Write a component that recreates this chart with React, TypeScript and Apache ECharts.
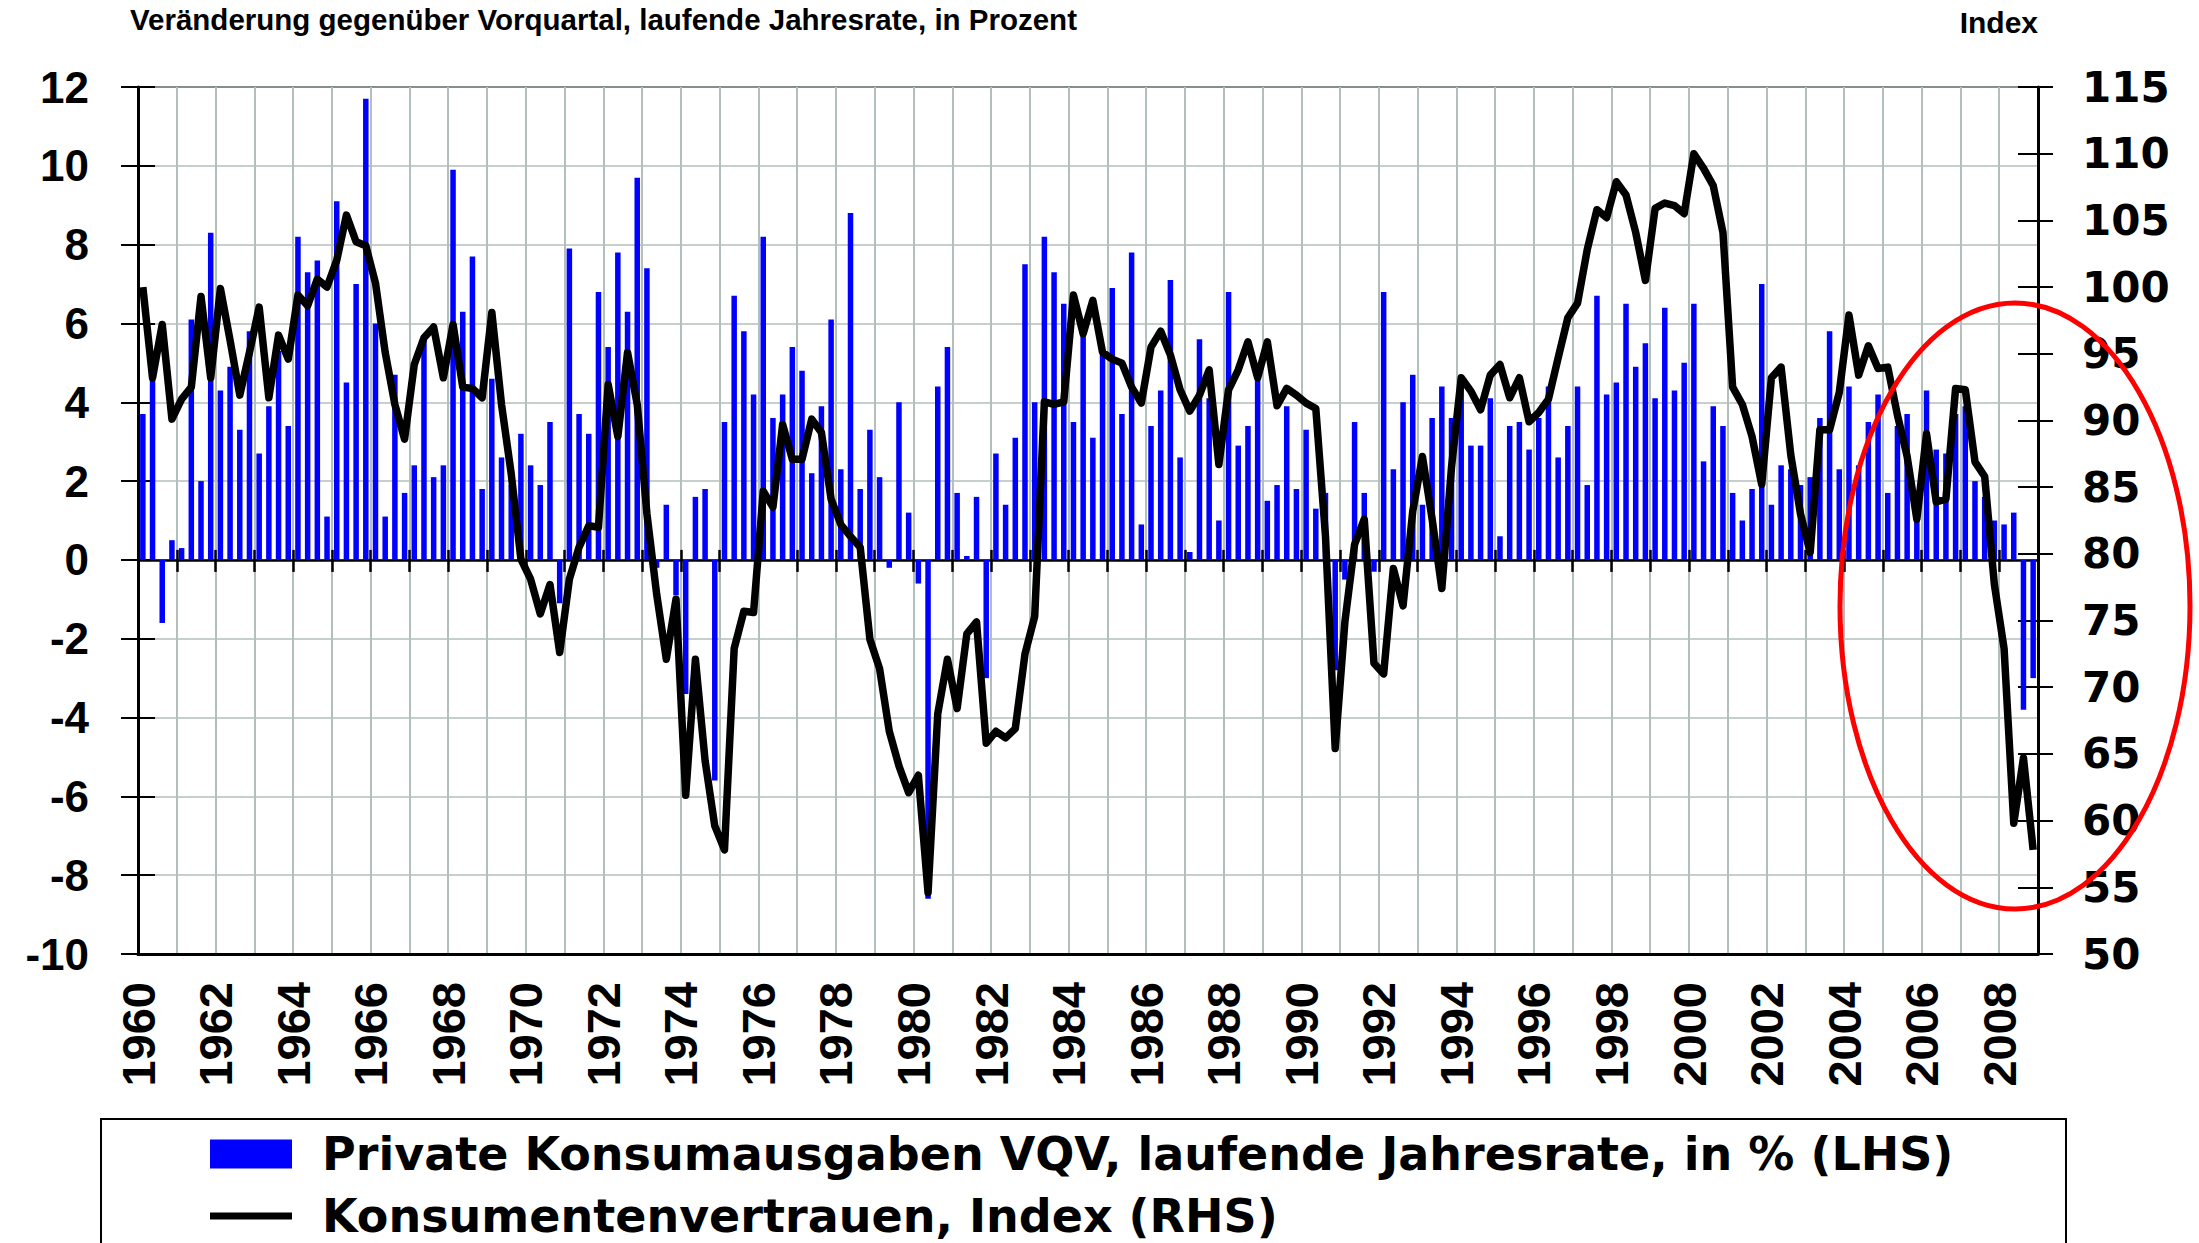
import React, { useEffect, useRef } from 'react';
import * as echarts from 'echarts';

const FIRST_YEAR = 1960;
const LAST_YEAR = 2008;

const titleText = 'Veränderung gegenüber Vorquartal, laufende Jahresrate, in Prozent';
const rightAxisName = 'Index';
const barName = 'Private Konsumausgaben VQV, laufende Jahresrate, in % (LHS)';
const lineName = 'Konsumentenvertrauen, Index (RHS)';

// Private consumption, q/q annualised, % (LHS), 1960Q1 .. 2008Q4
const consumptionGrowth = [
  3.7, 4.6, -1.6, 0.5, 0.3, 6.1, 2.0, 8.3, 4.3, 4.9, 3.3, 5.8, 2.7, 3.9, 5.3, 3.4,
  8.2, 7.3, 7.6, 1.1, 9.1, 4.5, 7.0, 11.7, 6.0, 1.1, 4.7, 1.7, 2.4, 5.6, 2.1, 2.4,
  9.9, 6.3, 7.7, 1.8, 4.6, 2.6, 1.9, 3.2, 2.4, 1.9, 3.5, -1.1, 7.9, 3.7, 3.2, 6.8,
  5.4, 7.8, 6.3, 9.7, 7.4, -0.2, 1.4, -0.9, -3.4, 1.6, 1.8, -5.6, 3.5, 6.7, 5.8, 4.2,
  8.2, 3.6, 4.2, 5.4, 4.8, 2.2, 3.9, 6.1, 2.3, 8.8, 1.8, 3.3, 2.1, -0.2, 4.0, 1.2,
  -0.6, -8.6, 4.4, 5.4, 1.7, 0.1, 1.6, -3.0, 2.7, 1.4, 3.1, 7.5, 4.0, 8.2, 7.3, 6.5,
  3.5, 5.8, 3.1, 5.2, 6.9, 3.7, 7.8, 0.9, 3.4, 4.3, 7.1, 2.6, 0.2, 5.6, 4.1, 1.0,
  6.8, 2.9, 3.4, 4.6, 1.5, 1.9, 3.9, 1.8, 3.3, 1.3, 1.7, -2.8, -0.5, 3.5, 1.7, -0.3,
  6.8, 2.3, 4.0, 4.7, 1.4, 3.6, 4.4, 3.6, 4.4, 2.9, 2.9, 4.1, 0.6, 3.4, 3.5, 2.8,
  3.6, 4.4, 2.6, 3.4, 4.4, 1.9, 6.7, 4.2, 4.5, 6.5, 4.9, 5.5, 4.1, 6.4, 4.3, 5.0,
  6.5, 2.5, 3.9, 3.4, 1.7, 1.0, 1.8, 7.0, 1.4, 2.4, 2.3, 1.9, 2.1, 3.6, 5.8, 2.3,
  4.4, 2.4, 3.5, 4.2, 1.7, 3.4, 3.7, 1.1, 4.3, 2.8, 2.7, 3.7, 3.9, 2.0, 1.6, 1.0,
  0.9, 1.2, -3.8, -3.0,
];

// Consumer confidence index (RHS), 1960Q1 .. 2008Q4
const consumerSentiment = [
  100.0, 93.2, 97.2, 90.1, 91.6, 92.5, 99.3, 93.2, 99.9, 96.0, 91.9, 95.1, 98.5, 91.7, 96.4, 94.6,
  99.4, 98.6, 100.6, 100.0, 102.0, 105.4, 103.4, 103.1, 100.3, 95.1, 91.2, 88.6, 94.2, 96.2, 97.0, 93.2,
  97.2, 92.5, 92.4, 91.7, 98.1, 91.2, 86.0, 79.6, 78.1, 75.5, 77.7, 72.6, 78.1, 80.5, 82.1, 82.0,
  92.7, 88.8, 95.1, 91.2, 83.0, 77.0, 72.1, 76.6, 61.9, 72.1, 64.5, 59.6, 57.8, 72.9, 75.7, 75.6,
  84.7, 83.5, 89.7, 87.1, 87.1, 90.1, 89.1, 84.1, 82.2, 81.3, 80.5, 73.6, 71.4, 66.7, 64.1, 62.1,
  63.4, 54.6, 68.0, 72.1, 68.4, 74.0, 74.9, 65.8, 66.7, 66.2, 66.9, 72.5, 75.3, 91.4, 91.2, 91.4,
  99.4, 96.5, 99.0, 95.1, 94.6, 94.3, 92.5, 91.3, 95.5, 96.7, 94.9, 92.3, 90.7, 91.9, 93.8, 86.7,
  92.3, 93.8, 95.9, 93.2, 95.9, 91.1, 92.4, 91.9, 91.3, 90.9, 81.3, 65.4, 74.9, 80.7, 82.6, 71.8,
  71.0, 78.9, 76.1, 83.2, 87.3, 82.6, 77.4, 86.5, 93.2, 92.2, 90.8, 93.4, 94.2, 91.7, 93.2, 89.9,
  90.6, 91.6, 94.7, 97.7, 98.8, 102.8, 105.8, 105.2, 107.9, 106.9, 104.1, 100.5, 105.9, 106.3, 106.1, 105.5,
  110.0, 108.9, 107.6, 104.1, 92.5, 91.2, 88.8, 85.2, 93.2, 94.0, 87.4, 83.0, 80.1, 89.3, 89.3, 92.1,
  97.9, 93.4, 95.6, 93.9, 94.0, 90.4, 87.3, 82.6, 89.0, 83.9, 84.1, 92.4, 92.3, 86.9, 85.8, 77.7,
  72.9, 59.8, 64.7, 57.8,
];

const LEFT_MIN = -10;
const LEFT_MAX = 12;
const LEFT_STEP = 2;
const RIGHT_MIN = 50;
const RIGHT_MAX = 115;
const RIGHT_STEP = 5;

const quarters: string[] = [];
for (let y = FIRST_YEAR; y <= LAST_YEAR; y++) {
  for (let q = 1; q <= 4; q++) quarters.push(`${y}Q${q}`);
}
const quarterEdges = [...quarters, `${LAST_YEAR + 1}Q1`];

const GRID_COLOR = '#b3bfba';
const ARIAL = "'Liberation Sans', Arial, sans-serif";
const WIDE = "'DejaVu Sans', 'Liberation Sans', sans-serif";
const NARROW = "'Liberation Sans Narrow', 'Arial Narrow', 'Liberation Sans', sans-serif";

export default function App() {
  const ref = useRef<HTMLDivElement>(null);

  useEffect(() => {
    if (!ref.current) return;
    const chart = echarts.init(ref.current, null, { renderer: 'svg' });
    const option: any = {
      animation: false,
      backgroundColor: '#ffffff',
      title: {
        text: titleText,
        left: 130,
        top: 4,
        padding: 0,
        textStyle: { fontFamily: NARROW, fontWeight: 'bold', fontSize: 29.5, color: '#000' },
      },
      grid: {
        left: 138,
        right: 161,
        top: 87,
        bottom: 289,
        show: true,
        borderColor: '#000',
        borderWidth: 2,
        backgroundColor: 'transparent',
      },
      legend: {
        orient: 'vertical',
        left: 210,
        top: 1131,
        padding: 0,
        itemWidth: 82,
        itemHeight: 29,
        itemGap: 16,
        selectedMode: false,
        textStyle: {
          fontFamily: WIDE,
          fontWeight: 'bold',
          fontSize: 46,
          lineHeight: 45,
          color: '#000',
          padding: [0, 0, 0, 25],
        },
        data: [
          { name: barName, icon: 'rect' },
          { name: lineName, icon: 'path://M0 0H82V7H0Z', itemStyle: { borderWidth: 0 } },
        ],
      },
      xAxis: [
        {
          type: 'category',
          data: quarters,
          position: 'bottom',
          axisLine: { onZero: true, onZeroAxisIndex: 0, lineStyle: { color: '#000', width: 2.5 } },
          axisTick: { show: true, interval: 3, length: 12, lineStyle: { color: '#000', width: 2.5 } },
          axisLabel: { show: false },
          splitLine: { show: false },
        },
        {
          type: 'category',
          data: quarterEdges,
          boundaryGap: false,
          position: 'bottom',
          axisLine: { onZero: false, lineStyle: { color: '#000', width: 3 } },
          axisTick: { show: false },
          axisLabel: {
            interval: 7,
            rotate: 90,
            margin: 28,
            formatter: (v: string, idx: number) => (idx >= quarters.length ? '' : v.slice(0, 4)),
            fontFamily: ARIAL,
            fontWeight: 'bold',
            fontSize: 47,
            color: '#000',
          },
          splitLine: { show: true, interval: 3, lineStyle: { color: GRID_COLOR, width: 2 } },
        },
        {
          type: 'category',
          data: quarters,
          position: 'bottom',
          axisLine: { show: false, onZero: true, onZeroAxisIndex: 0 },
          axisTick: { show: true, inside: true, interval: 3, length: 10, lineStyle: { color: '#000', width: 2.5 } },
          axisLabel: { show: false },
          splitLine: { show: false },
        },
      ],
      yAxis: [
        {
          type: 'value',
          min: LEFT_MIN,
          max: LEFT_MAX,
          interval: LEFT_STEP,
          position: 'left',
          axisLine: { show: true, lineStyle: { color: '#000', width: 3 } },
          axisTick: { show: true, length: 17, lineStyle: { color: '#000', width: 2 } },
          axisLabel: { margin: 49, fontFamily: ARIAL, fontWeight: 'bold', fontSize: 44, color: '#000' },
          splitLine: { show: true, lineStyle: { color: GRID_COLOR, width: 1.5 } },
        },
        {
          type: 'value',
          min: RIGHT_MIN,
          max: RIGHT_MAX,
          interval: RIGHT_STEP,
          position: 'right',
          name: rightAxisName,
          nameLocation: 'end',
          nameGap: 50,
          nameTextStyle: {
            fontFamily: NARROW,
            fontWeight: 'bold',
            fontSize: 30,
            color: '#000',
            align: 'right',
            verticalAlign: 'bottom',
          },
          axisLine: { show: true, lineStyle: { color: '#000', width: 3 } },
          axisTick: { show: true, length: 15, lineStyle: { color: '#000', width: 2 } },
          axisLabel: { margin: 44, fontFamily: WIDE, fontWeight: 'bold', fontSize: 42, color: '#000' },
          splitLine: { show: false },
        },
        {
          type: 'value',
          min: LEFT_MIN,
          max: LEFT_MAX,
          interval: LEFT_STEP,
          position: 'left',
          axisLine: { show: false },
          axisTick: { show: true, inside: true, length: 17, lineStyle: { color: '#000', width: 2 } },
          axisLabel: { show: false },
          splitLine: { show: false },
        },
        {
          type: 'value',
          min: RIGHT_MIN,
          max: RIGHT_MAX,
          interval: RIGHT_STEP,
          position: 'right',
          axisLine: { show: false },
          axisTick: { show: true, inside: true, length: 20, lineStyle: { color: '#000', width: 2 } },
          axisLabel: { show: false },
          splitLine: { show: false },
        },
      ],
      series: [
        {
          type: 'bar',
          name: barName,
          data: consumptionGrowth,
          xAxisIndex: 0,
          yAxisIndex: 0,
          barWidth: 5.5,
          itemStyle: { color: '#0000ff' },
        },
        {
          type: 'line',
          name: lineName,
          data: consumerSentiment,
          xAxisIndex: 0,
          yAxisIndex: 1,
          symbol: 'none',
          z: 3,
          lineStyle: { color: '#000', width: 7.5, join: 'round' },
          itemStyle: { color: '#000' },
        },
      ],
      graphic: [
        {
          type: 'rect',
          shape: { x: 101, y: 1119, width: 1965, height: 160 },
          style: { fill: 'none', stroke: '#000', lineWidth: 2 },
          silent: true,
        },
        {
          type: 'ellipse',
          shape: { cx: 2015, cy: 606, rx: 175, ry: 303 },
          style: { fill: 'none', stroke: '#ff0000', lineWidth: 5 },
          z: 100,
          silent: true,
        },
      ],
    };
    chart.setOption(option);
    return () => chart.dispose();
  }, []);

  return (
    <div
      ref={ref}
      style={{ position: 'absolute', left: 0, top: 0, width: 2199, height: 1243, background: '#fff' }}
    />
  );
}
